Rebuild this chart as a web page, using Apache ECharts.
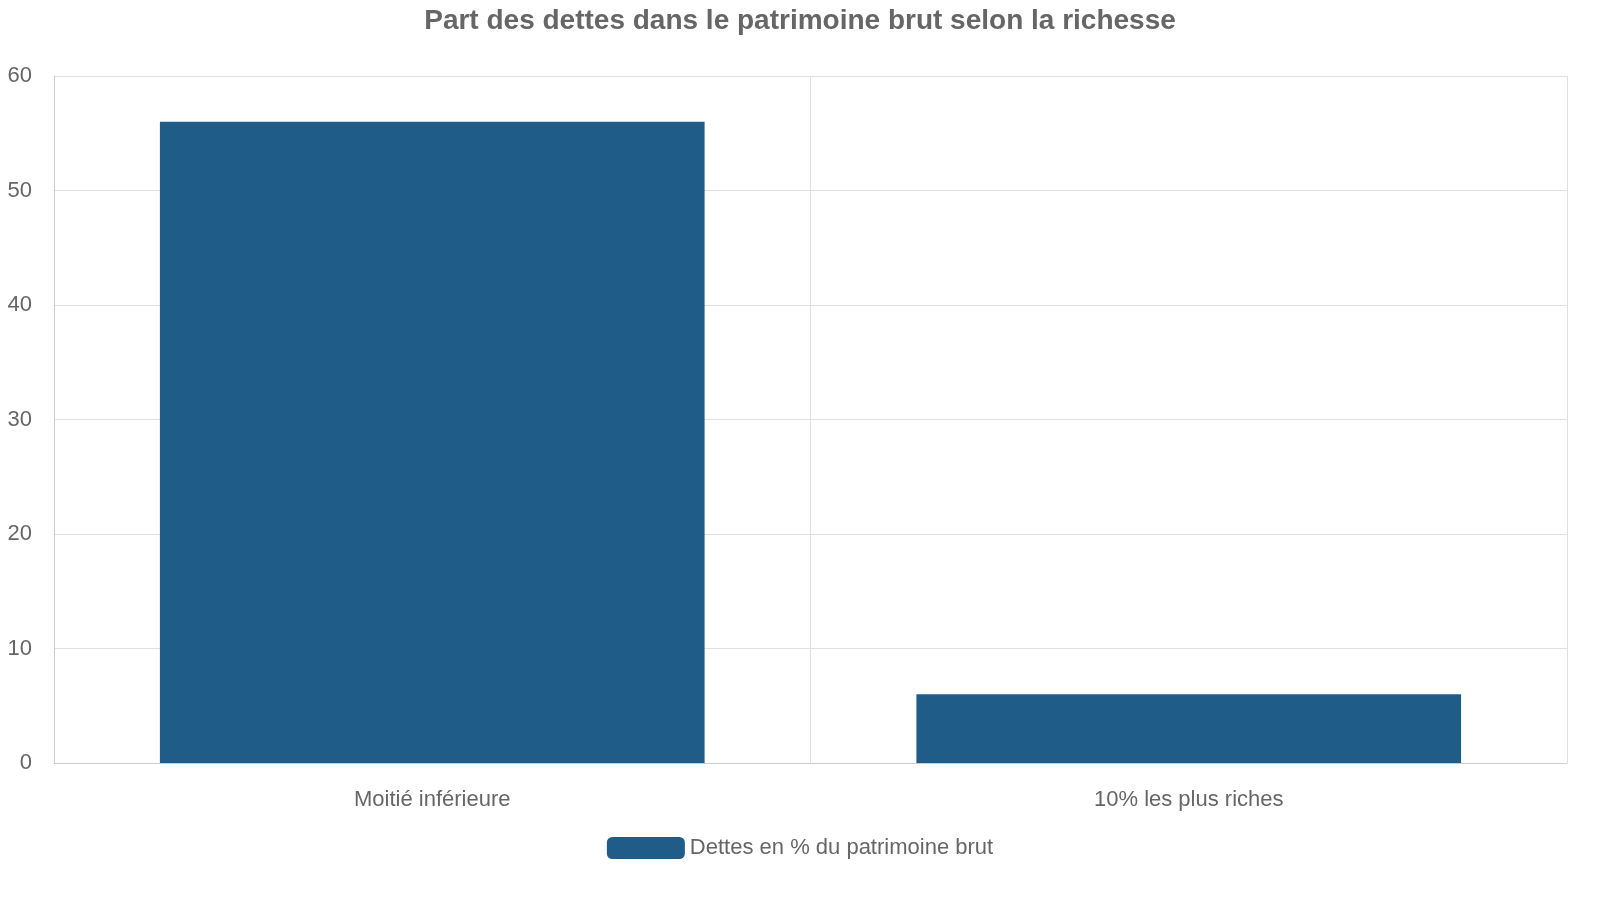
<!DOCTYPE html>
<html><head><meta charset="utf-8">
<script src="https://cdn.jsdelivr.net/npm/echarts@6/dist/echarts.min.js"></script>
<style>html,body{margin:0;padding:0;background:#fff}#c{width:1600px;height:900px}</style>
</head><body><div id="c"></div>
<script>
const categories = ["Moitié inférieure", "10% les plus riches"];
const debtShare = [56, 6];
const seriesName = "Dettes en % du patrimoine brut";
const chart = echarts.init(document.getElementById('c'));
chart.setOption({
  animation: false,
  textStyle: { fontFamily: "Liberation Sans, Arial, sans-serif" },
  title: { text: "Part des dettes dans le patrimoine brut selon la richesse", left: 'center', top: 2,
    textStyle: { fontSize: 28, fontWeight: 'bold', color: '#666' } },
  legend: { bottom: 36, itemWidth: 78, itemHeight: 22, textStyle: { fontSize: 22, color: '#666' },
    data: [seriesName] },
  grid: { left: 54, right: 33, top: 76, bottom: 137 },
  xAxis: { type: 'category', data: categories,
    axisLine: { lineStyle: { color: '#ccc' } },
    axisTick: { length: 14, lineStyle: { color: '#ccc' } },
    splitLine: { show: true, lineStyle: { color: '#e0e0e0' } },
    axisLabel: { fontSize: 22, color: '#666', margin: 26 } },
  yAxis: { type: 'value', min: 0, max: 60, interval: 10,
    axisLine: { show: true, lineStyle: { color: '#ccc' } },
    splitLine: { lineStyle: { color: '#e0e0e0' } },
    axisLabel: { fontSize: 22, color: '#666', margin: 22 } },
  series: [{ type: 'bar', name: seriesName, data: debtShare, barWidth: '72%',
    itemStyle: { color: '#1f5c87' } }]
});
</script></body></html>
